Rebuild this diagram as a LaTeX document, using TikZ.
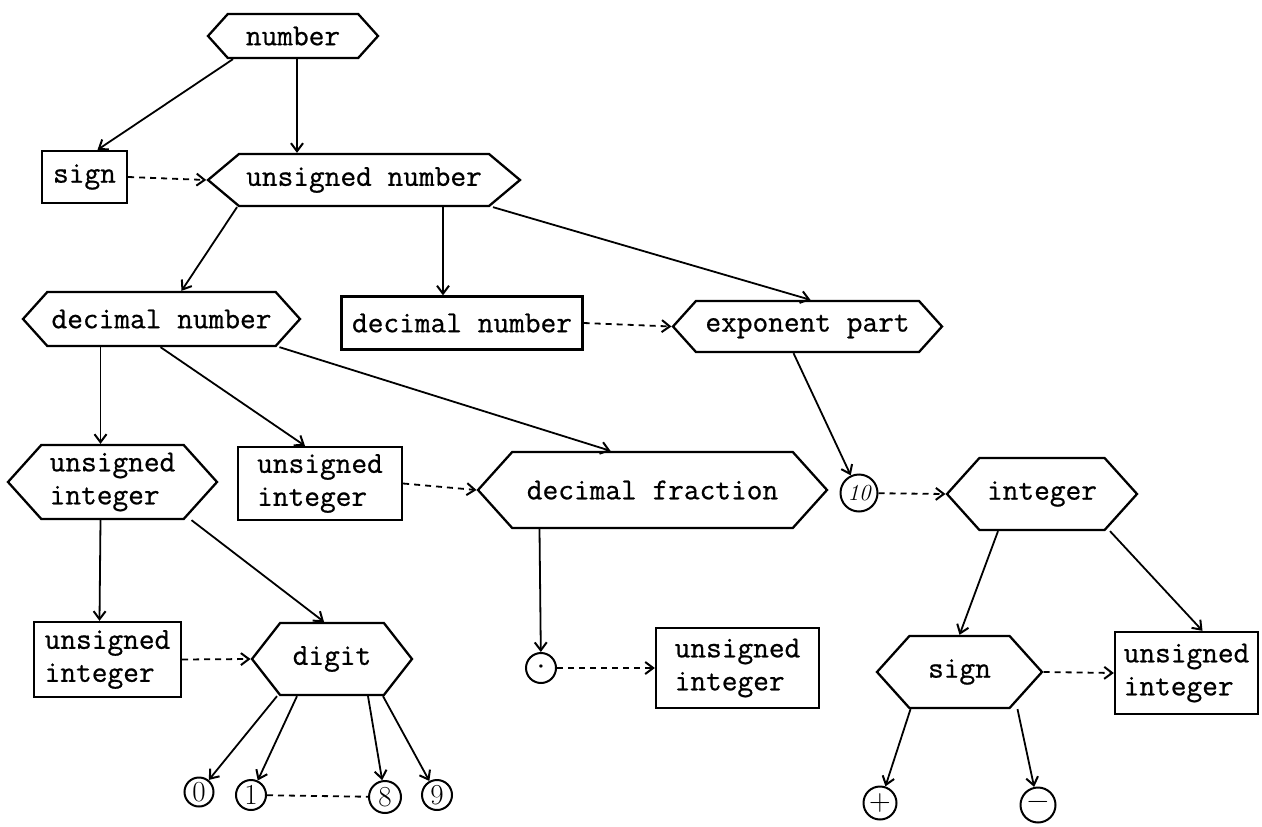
\documentclass[tikz,border=0pt]{standalone}
\usepackage{fontspec}
\setmonofont{Latin Modern Mono}[FakeBold=0.7]
\usetikzlibrary{arrows.meta,shapes.symbols}

\begin{document}
\begin{tikzpicture}[x=1pt, y=-1pt, every node/.style={font=\ttfamily\fontsize{30.5}{33}\selectfont}]
\tikzset{hexbox/.style={draw, line width=2.3pt, shape=signal, signal to=east and west, signal pointer angle=96, inner sep=0pt, align=left}}
\tikzset{ntbox/.style={draw, line width=2.3pt, rectangle, inner sep=0pt, align=left}}
\tikzset{term/.style={draw, circle, line width=2pt, inner sep=0pt, font=\rmfamily\fontsize{29}{29}\selectfont}}
\tikzset{arrow/.style={-{Straight Barb[length=8pt,width=12pt,line width=2pt]}, line width=1.8pt}}
\tikzset{dasharrow/.style={arrow, dash pattern=on 6pt off 5pt}}
\fill[white] (0,0) rectangle (1262,827);
\useasboundingbox (0,0) rectangle (1262,827);
% first levels
\node[hexbox, minimum width=170pt, minimum height=44pt] (number) at (293,36) {number};
\node[ntbox, minimum width=85pt, minimum height=52pt] (sign) at (84.5,177) {sign};
\node[hexbox, signal pointer angle=80, minimum width=312pt, minimum height=52pt] (unsnum) at (364,180) {unsigned number};
\node[hexbox, minimum width=277pt, minimum height=54pt] (decnum) at (161.5,319) {decimal number};
\node[ntbox, minimum width=241pt, minimum height=53pt] (decnumb) at (462,323) {decimal number};
\node[hexbox, minimum width=269pt, minimum height=51pt] (exppart) at (807.5,326.5) {exponent part};
% middle row
\node[hexbox, minimum width=209pt, minimum height=74pt] (uinthex) at (112.5,482) {unsigned\\integer};
\node[ntbox, minimum width=164pt, minimum height=73pt] (uintfrac) at (320,483.5) {unsigned\\integer};
\node[hexbox, minimum width=349pt, minimum height=76pt] (decfrac) at (652.5,490) {decimal fraction};
\node[term, minimum size=37pt, font=\rmfamily\itshape\fontsize{23}{23}\selectfont] (ten) at (859,493) {10};
\node[hexbox, minimum width=190pt, minimum height=72pt] (integer) at (1042,494) {integer};
% lower row
\node[ntbox, minimum width=147pt, minimum height=75pt] (uintdig) at (107.5,659.5) {unsigned\\integer};
\node[hexbox, signal pointer angle=104, minimum width=160pt, minimum height=72pt] (digit) at (332,659) {digit};
\node[term, minimum size=30pt, font=\rmfamily\fontsize{15}{15}\selectfont] (point) at (541,668) {\textbullet};
\node[ntbox, minimum width=163pt, minimum height=80pt] (uintpt) at (737.5,668) {unsigned\\integer};
\node[hexbox, minimum width=165pt, minimum height=72pt] (signhex) at (959.5,672) {sign};
\node[ntbox, minimum width=143pt, minimum height=82pt] (uintsgn) at (1186.5,673) {unsigned\\integer};
% terminals
\node[term, minimum size=29pt] (d0) at (199,792) {0};
\node[term, minimum size=30pt] (d1) at (251,795) {1};
\node[term, minimum size=32pt] (d8) at (385,797) {8};
\node[term, minimum size=30pt] (d9) at (437,795) {9};
\node[term, minimum size=33pt, font=\rmfamily\fontsize{30}{30}\selectfont] (plus) at (880,803) {+};
\node[term, minimum size=35pt, font=\rmfamily\fontsize{30}{30}\selectfont] (minus) at (1038,805) {−};
% tree edges
\draw[arrow] ([xshift=-60pt]number.south) -- ([xshift=13pt]sign.north);
\draw[arrow] ([xshift=4pt]number.south) -- ([xshift=-67pt]unsnum.north);
\draw[dasharrow] (sign.east) -- (unsnum.west);
\draw[arrow] ([xshift=-127pt]unsnum.south) -- ([xshift=20pt]decnum.north);
\draw[arrow] ([xshift=79pt]unsnum.south) -- ([xshift=-19pt]decnumb.north);
\draw[arrow] ([xshift=129pt]unsnum.south) -- ([xshift=3pt]exppart.north);
\draw[dasharrow] (decnumb.east) -- (exppart.west);
\draw[arrow] ([xshift=-14pt]exppart.south) -- (ten);
\draw[dasharrow] (ten) -- (integer.west);
\draw[arrow] ([xshift=-61pt]decnum.south) -- ([xshift=-12pt]uinthex.north);
\draw[arrow] ([xshift=-1pt]decnum.south) -- ([xshift=-15pt]uintfrac.north);
\draw[arrow] ([xshift=118pt]decnum.south) -- ([xshift=-42pt]decfrac.north);
\draw[dasharrow] (uintfrac.east) -- (decfrac.west);
\draw[arrow] ([xshift=-12pt]uinthex.south) -- ([xshift=-8pt]uintdig.north);
\draw[arrow] ([xshift=79pt]uinthex.south) -- ([xshift=-8pt]digit.north);
\draw[dasharrow] (uintdig.east) -- (digit.west);
\draw[arrow] ([xshift=-113pt]decfrac.south) -- (point);
\draw[dasharrow] (point) -- (uintpt.west);
\draw[arrow] ([xshift=-55pt]digit.south) -- (d0);
\draw[arrow] ([xshift=-35pt]digit.south) -- (d1);
\draw[arrow] ([xshift=36pt]digit.south) -- (d8);
\draw[arrow] ([xshift=51pt]digit.south) -- (d9);
\draw[line width=1.8pt, dash pattern=on 6pt off 5pt] (d1) -- (d8);
\draw[arrow] ([xshift=-44pt]integer.south) -- (signhex.north);
\draw[arrow] ([xshift=68pt]integer.south) -- ([xshift=16pt]uintsgn.north);
\draw[dasharrow] (signhex.east) -- (uintsgn.west);
\draw[arrow] ([xshift=-49pt]signhex.south) -- (plus);
\draw[arrow] ([xshift=58pt]signhex.south) -- (minus);
\end{tikzpicture}
\end{document}
